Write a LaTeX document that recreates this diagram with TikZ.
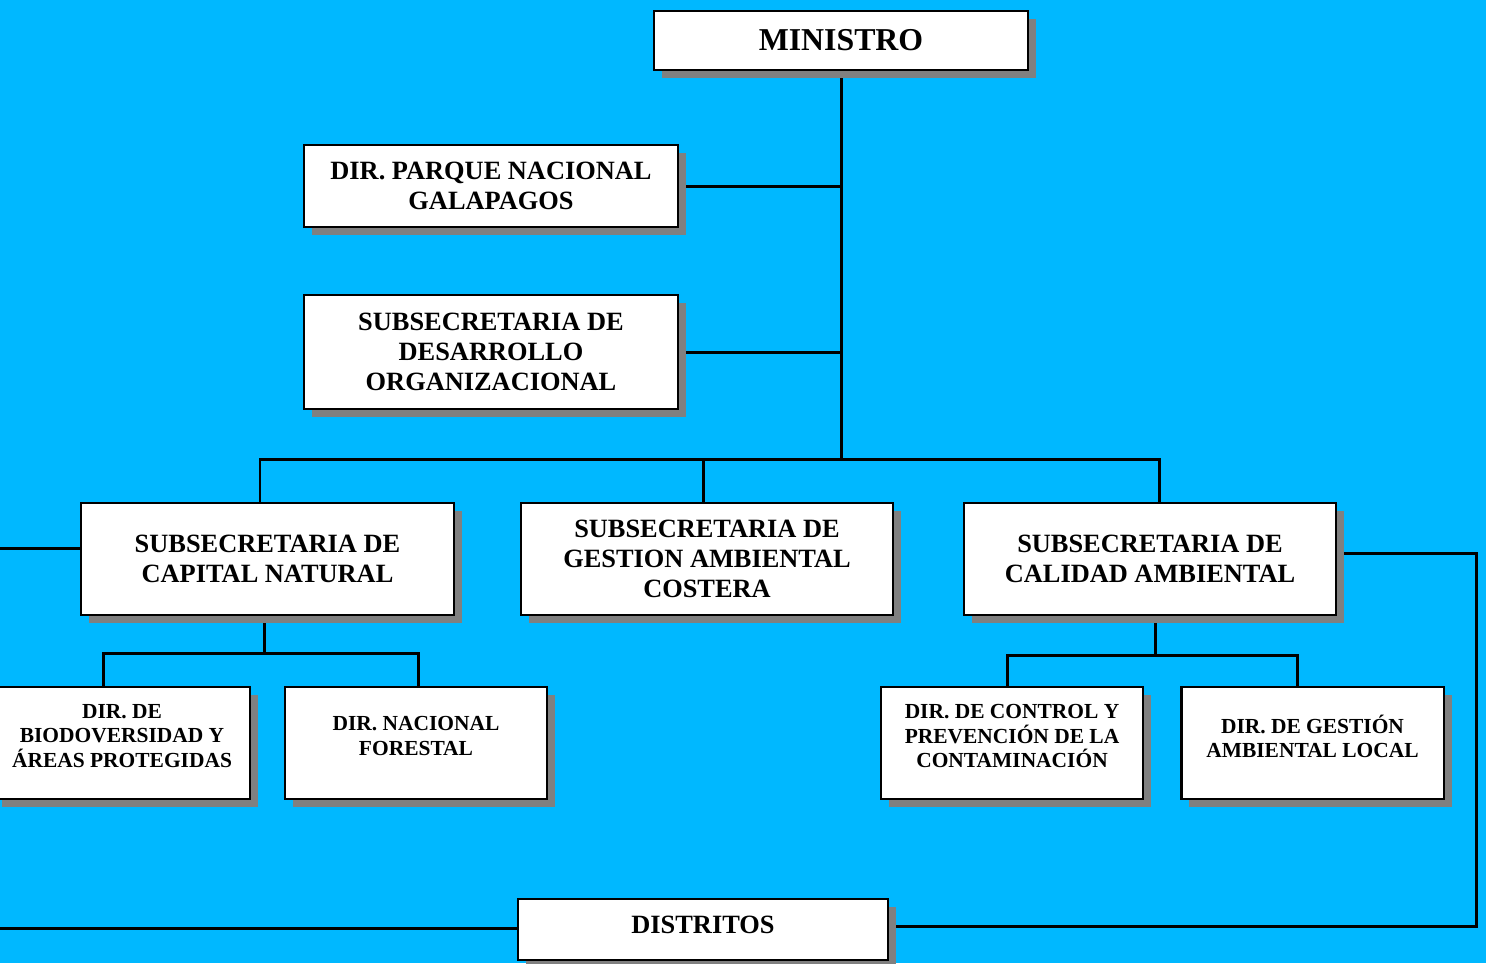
\documentclass[tikz,border=0pt]{standalone}
\usepackage{fontspec}
\setmainfont{Liberation Serif}
\usetikzlibrary{positioning,shadows,backgrounds}
\definecolor{skyfill}{HTML}{00B8FF}
\definecolor{shade}{HTML}{808080}

\begin{document}
\begin{tikzpicture}[x=0.01cm,y=-0.01cm,
    every node/.style={font=\bfseries},
    unit/.style={draw, line width=0.6pt, fill=white, align=center, inner sep=0pt,
        drop shadow={shadow xshift=0.08cm, shadow yshift=-0.08cm, fill=shade, opacity=1}},
    topbox/.style={unit, minimum width=3.74cm, font=\fontsize{9.05}{11}\selectfont\bfseries},
    subbox/.style={unit, minimum width=3.72cm, minimum height=1.12cm, font=\fontsize{7.5}{8.55}\selectfont\bfseries},
    dirtext/.style={align=center, inner sep=0pt, yshift=0.07cm, font=\fontsize{6.1}{6.85}\selectfont\bfseries},
    dirbox/.style={unit, minimum width=2.62cm, minimum height=1.12cm, label={[dirtext]center:#1}},
    link/.style={line width=0.85pt}]
    \useasboundingbox (0,0) rectangle (1486,963);
    % top level
    \node[topbox, minimum height=0.59cm] (min) at (841,40.5) {MINISTRO};
    \node[subbox, minimum width=3.74cm, minimum height=0.82cm] (gal) at (491,186) {DIR. PARQUE NACIONAL\\GALAPAGOS};
    \node[subbox, minimum width=3.74cm, minimum height=1.14cm] (des) at (491,352) {SUBSECRETARIA DE\\DESARROLLO\\ORGANIZACIONAL};
    % subsecretarias
    \node[subbox] (cap) at (267.5,559) {SUBSECRETARIA DE\\CAPITAL NATURAL};
    \node[subbox] (cos) at (707,559) {SUBSECRETARIA DE\\GESTION AMBIENTAL\\COSTERA};
    \node[subbox] (cal) at (1150,559) {SUBSECRETARIA DE\\CALIDAD AMBIENTAL};
    % direcciones
    \node[dirbox={DIR. DE\\BIODOVERSIDAD Y\\ÁREAS PROTEGIDAS}, minimum width=2.56cm] (bio) at (122,743) {};
    \node[dirbox={DIR. NACIONAL\\FORESTAL}] (for) at (416,743) {};
    \node[dirbox={DIR. DE CONTROL Y\\PREVENCIÓN DE LA\\CONTAMINACIÓN}] (con) at (1012,743) {};
    \node[dirbox={DIR. DE GESTIÓN\\AMBIENTAL LOCAL}] (ges) at (1312.5,743) {};
    \node[subbox, minimum width=3.70cm, minimum height=0.61cm, text height=5pt, text depth=3pt] (dist) at (703,929.5) {DISTRITOS};
    % connectors
    \coordinate (bus) at (841,459);
    \coordinate (capbus) at (264,653);
    \coordinate (calbus) at (1155,655);
    \coordinate (edgeL) at (0,548);
    \coordinate (edgeD) at (0,928);
    \coordinate (edgeR) at (1476,926);
    \begin{scope}[on background layer]
        \fill[skyfill] (0,0) rectangle (1486,963);
        \draw[link] (min.south) -- (bus);
        \draw[link] (gal.east) -- (gal.east -| min.south);
        \draw[link] (des.east) -- (des.east -| min.south);
        \draw[link] ([xshift=-0.075cm]cap.north) |- (bus) -| ([xshift=0.09cm]cal.north);
        \draw[link] ([xshift=-0.04cm]cos.north) -- ([xshift=-0.04cm]cos.north |- bus);
        \draw[link] (capbus |- cap.south) -- (capbus);
        \draw[link] ([xshift=-0.18cm]bio.north) |- (capbus) -| ([xshift=0.02cm]for.north);
        \draw[link] (calbus |- cal.south) -- (calbus);
        \draw[link] ([xshift=-0.05cm]con.north) |- (calbus) -| ([xshift=-0.155cm]ges.north);
        \draw[link] (edgeL) -- (edgeL -| cap.west);
        \draw[link] ([yshift=0.06cm]cal.east) -| (edgeR) -- (dist.east |- edgeR);
        \draw[link] (edgeD) -- (dist.west |- edgeD);
    \end{scope}
\end{tikzpicture}
\end{document}
